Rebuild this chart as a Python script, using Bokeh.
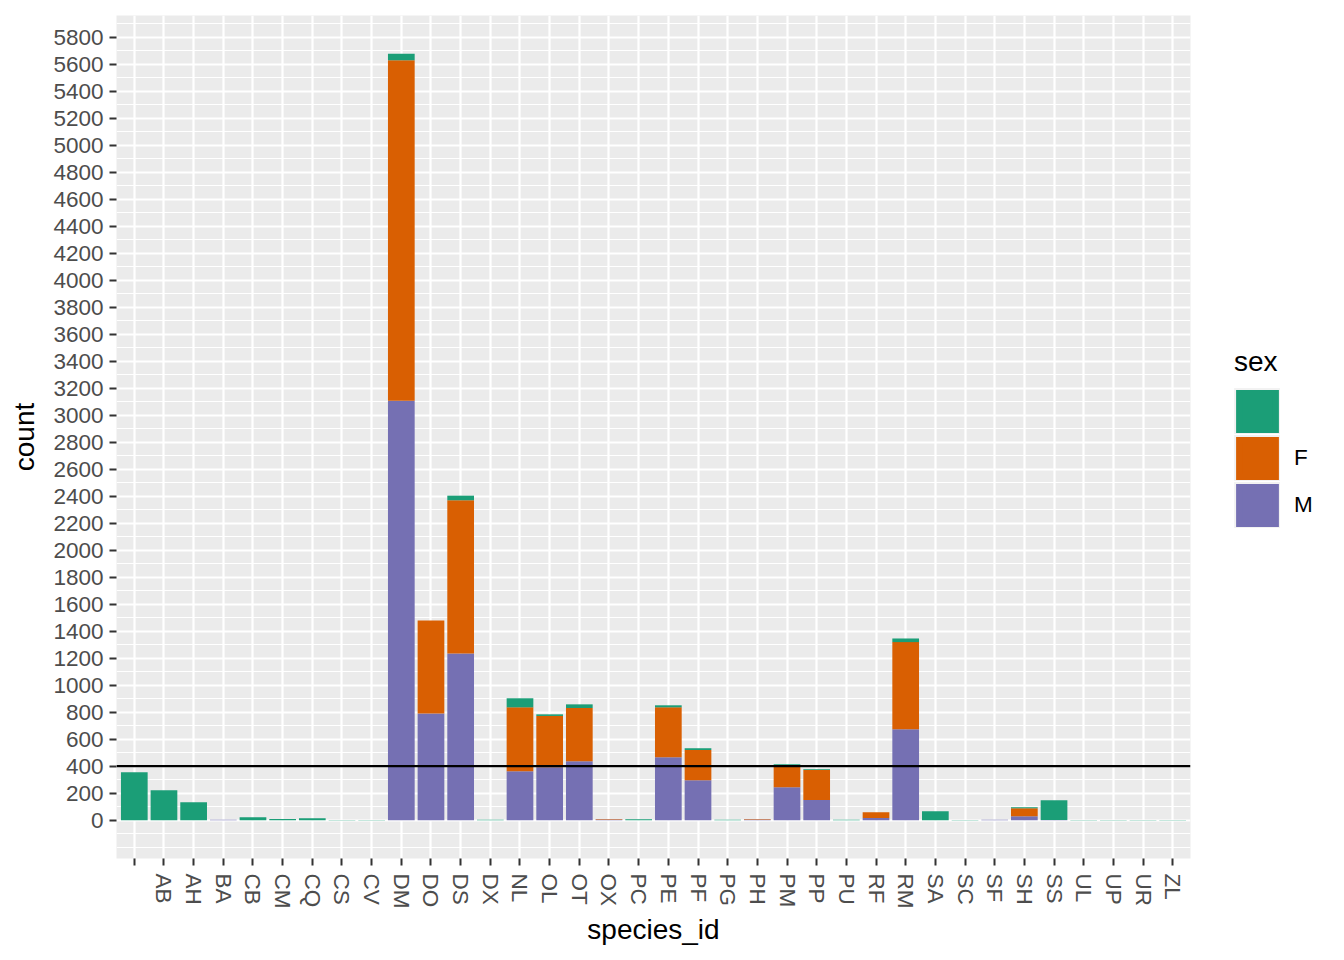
from bokeh.plotting import figure
from bokeh.models import Range1d, FixedTicker, Span, Legend, LegendItem, ColumnDataSource
from bokeh.embed import file_html
from bokeh.resources import INLINE

species = ["", "AB", "AH", "BA", "CB", "CM", "CQ", "CS", "CV", "DM", "DO", "DS", "DX",
           "NL", "OL", "OT", "OX", "PC", "PE", "PF", "PG", "PH", "PM", "PP", "PU", "RF",
           "RM", "SA", "SC", "SF", "SH", "SS", "UL", "UP", "UR", "ZL"]
count_m = [0, 0, 0, 4, 0, 0, 0, 0, 0, 3107, 791, 1235, 0,
           362, 392, 436, 5, 0, 466, 296, 0, 5, 244, 150, 0, 17,
           673, 0, 0, 4, 30, 2, 0, 0, 0, 0]
count_f = [0, 0, 0, 0, 0, 0, 0, 0, 0, 2523, 688, 1135, 0,
           474, 380, 395, 3, 0, 370, 224, 0, 4, 161, 222, 0, 42,
           646, 0, 0, 0, 59, 0, 0, 0, 0, 0]
count_na = [355, 222, 133, 0, 22, 9, 14, 2, 1, 47, 0, 34, 3,
            67, 12, 27, 0, 7, 15, 13, 3, 0, 9, 5, 3, 0,
            27, 67, 2, 0, 7, 146, 2, 2, 2, 2]
sex_labels = ["", "F", "M"]
y_breaks = list(range(0, 5801, 200))
y_minor = [-200, -100] + list(range(100, 6000, 200))
ref_line = 400

GREEN, ORANGE, PURPLE = "#1B9E77", "#D95F02", "#7570B3"
KEY_BG = "#F2F2F2"
FONT = "Liberation Sans"

xs = list(range(1, len(species) + 1))
totals = [a + b + c for a, b, c in zip(count_m, count_f, count_na)]
ymax = max(totals)
src = ColumnDataSource(dict(x=xs, M=count_m, F=count_f, NA=count_na))

p = figure(frame_width=1074, frame_height=843, output_backend="svg", toolbar_location=None,
           x_range=Range1d(0.4, len(species) + 0.6),
           y_range=Range1d(-0.05 * ymax, 1.05 * ymax),
           min_border_left=116, min_border_top=15, min_border_bottom=94, min_border_right=146)
p.background_fill_color = "#EBEBEB"
p.border_fill_color = "white"
p.outline_line_color = None

r_m, r_f, r_na = p.vbar_stack(["M", "F", "NA"], x="x", width=0.9, source=src,
                              fill_color=[PURPLE, ORANGE, GREEN], line_color=None)

p.add_layout(Span(location=ref_line, dimension="width", line_color="black", line_width=2.2))

# axes
p.xaxis.ticker = FixedTicker(ticks=xs)
p.xaxis.major_label_overrides = {x: s for x, s in zip(xs, species)}
p.xaxis.major_label_orientation = "vertical"
p.yaxis.ticker = FixedTicker(ticks=y_breaks, minor_ticks=y_minor)
for ax in (p.xaxis[0], p.yaxis[0]):
    ax.axis_line_color = None
    ax.major_tick_line_color = "#333333"
    ax.major_tick_line_width = 2
    ax.major_tick_out = 7
    ax.major_tick_in = 0
    ax.minor_tick_line_color = None
    ax.major_label_text_font = FONT
    ax.major_label_text_font_size = "22.5px"
    ax.major_label_text_color = "#4D4D4D"
    ax.major_label_standoff = 6
    ax.axis_label_text_font = FONT
    ax.axis_label_text_font_size = "28px"
    ax.axis_label_text_font_style = "normal"
    ax.axis_label_text_color = "black"
p.xaxis.axis_label = "species_id"
p.yaxis.axis_label = "count"
p.xaxis.major_label_standoff = 8
p.xaxis.axis_label_standoff = 3
p.yaxis.axis_label_standoff = 10

p.xgrid.grid_line_color = "white"
p.xgrid.grid_line_width = 2.2
p.ygrid.grid_line_color = "white"
p.ygrid.grid_line_width = 2.2
p.ygrid.minor_grid_line_color = "white"
p.ygrid.minor_grid_line_width = 1.1

# legend keys: hidden copies of the bars, drawn only inside the legend
key_bg = []
key_fg = []
for col, field in zip([GREEN, ORANGE, PURPLE], ["NA", "F", "M"]):
    key_bg.append(p.vbar(x="x", top=field, width=0.9, source=src, fill_color=KEY_BG,
                         line_color=KEY_BG, line_width=10, line_join="miter", visible=False))
    key_fg.append(p.vbar(x="x", top=field, width=0.9, source=src, fill_color=col,
                         line_color=col, line_width=6, line_join="miter", visible=False))

legend = Legend(items=[LegendItem(label=lab if lab else " ", renderers=[bg, fg])
                       for lab, bg, fg in zip(sex_labels, key_bg, key_fg)],
                location=(44, 330), title="sex",
                title_text_font=FONT, title_text_font_size="28px", title_text_font_style="normal",
                title_text_color="black", title_standoff=10,
                label_text_font=FONT, label_text_font_size="22.5px", label_text_color="black",
                glyph_width=46, glyph_height=46, spacing=1, label_standoff=14,
                padding=0, margin=0, border_line_color=None, background_fill_color=None,
                click_policy="none")
p.add_layout(legend, "right")

open("out.html", "w").write(file_html(p, INLINE))
